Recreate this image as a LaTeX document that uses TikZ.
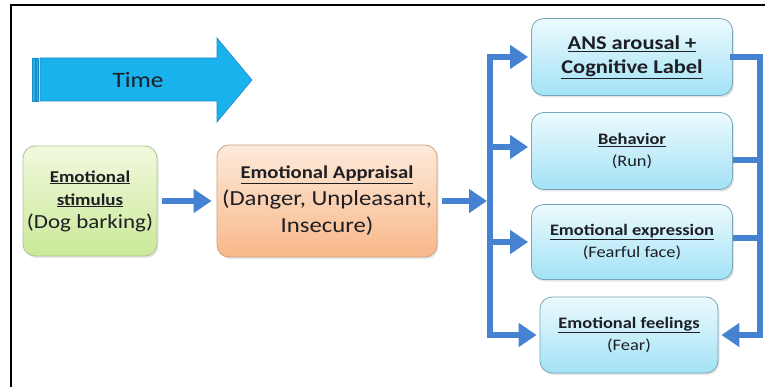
\documentclass[tikz,border=0pt]{standalone}
\usepackage{fontspec}
\setmainfont{Carlito}[FakeStretch=1.15] % Calibri widths, a bit wider
\usetikzlibrary{arrows.meta,shadows}
\definecolor{flowblue}{RGB}{70,130,210}
\definecolor{timeblue}{RGB}{25,178,236}
\definecolor{timeedge}{RGB}{30,140,200}
\definecolor{stimtop}{RGB}{242,249,222}
\definecolor{stimbot}{RGB}{202,233,152}
\definecolor{stimedge}{RGB}{175,195,150}
\definecolor{apprtop}{RGB}{253,234,218}
\definecolor{apprbot}{RGB}{248,184,138}
\definecolor{appredge}{RGB}{205,160,125}
\definecolor{resptop}{RGB}{236,250,253}
\definecolor{respbot}{RGB}{162,226,246}
\definecolor{respedge}{RGB}{120,165,185}
\definecolor{textdark}{RGB}{30,30,36}
\newcommand{\headline}[1]{\underline{\textbf{#1}}}

\begin{document}
\begin{tikzpicture}[x=1pt,y=-1pt,
  box/.style={rounded corners=12pt,draw,line width=0.8pt,align=center,inner sep=0pt,text=textdark,
    drop shadow={shadow xshift=1.5pt,shadow yshift=-2pt,opacity=0.2}},
  stim node/.style={box,draw=stimedge,top color=stimtop,bottom color=stimbot,
    minimum width=134pt,minimum height=110pt,font=\fontsize{20}{23}\selectfont},
  appr node/.style={box,draw=appredge,top color=apprtop,bottom color=apprbot,
    minimum width=220pt,minimum height=112pt,font=\fontsize{21.5}{27}\selectfont},
  resp node/.style={box,draw=respedge,top color=resptop,bottom color=respbot,
    minimum width=201pt,minimum height=77pt,font=\fontsize{16}{22}\selectfont},
  flow/.style={draw=flowblue,line width=6.5pt},
  flow arrow/.style={flow,-{Triangle[length=18pt,width=23pt]}}]

\useasboundingbox (0,0) rectangle (765,387);
\draw[line width=2pt] (11,387) -- (11,5) -- (765,5);

\filldraw[fill=timeblue,draw=timeedge,line width=0.6pt] (32,58) rectangle (35,101) (36.5,58) rectangle (38.5,101);
\filldraw[fill=timeblue,draw=timeedge,line width=0.6pt]
  (40,58) -- (217,58) -- (217,38) -- (252,80) -- (217,122) -- (217,101) -- (40,101) -- cycle;
\node at (138,80) (time) [text=textdark,font=\fontsize{22}{26}\selectfont] {Time};

\node at (90,201) [stim node] (stim) {{\fontsize{16.5}{23}\selectfont\headline{Emotional}}\\
  {\fontsize{16.5}{23}\selectfont\headline{stimulus}}\\ (Dog barking)};
\node at (327,201) [appr node] (appr) {{\fontsize{18}{27}\selectfont\headline{Emotional Appraisal}}\\
  (Danger, Unpleasant,\\ Insecure)};

\node at (632,57) [resp node,font=\fontsize{19.5}{24}\selectfont] (ans) {\headline{ANS arousal +}\\ \headline{Cognitive Label}};
\node at (632,151) [resp node] (beh) {\headline{Behavior}\\ (Run)};
\node at (632,242) [resp node,minimum height=75pt] (expr) {\headline{Emotional expression}\\ (Fearful face)};
\node at (629,335) [resp node,minimum width=178pt,minimum height=76pt] (feel) {\headline{Emotional feelings}\\ (Fear)};

\coordinate (ltop) at (490,57);
\coordinate (lmid) at (490,201);
\coordinate (l2) at (490,147);
\coordinate (lbot) at (490,335);
\coordinate (rtop) at (760,57);
\coordinate (r2) at (760,160);
\coordinate (r3) at (760,238);
\coordinate (rbot) at (760,335);

\draw[flow arrow,shorten <=5pt,shorten >=5pt] (stim) -- (appr);
\draw[flow arrow,shorten <=5pt,shorten >=3pt] (appr.east) -- (lmid);
\draw[flow,line cap=rect] (ltop) -- (lbot);
\draw[flow arrow,shorten >=3pt] (ltop) -- (ans);
\draw[flow arrow,shorten >=3pt] (l2) -- (l2 -| beh.west);
\draw[flow arrow,shorten >=3pt] (lbot |- expr) -- (expr);
\draw[flow arrow,shorten >=3pt] (lbot) -- (feel);
\draw[flow,line cap=rect] (ans) -- (rtop) -- (rbot);
\draw[flow] (r2 -| beh.east) -- (r2);
\draw[flow] (r3 -| expr.east) -- (r3);
\draw[flow arrow,shorten >=3pt] (rbot) -- (feel);
\end{tikzpicture}
\end{document}
